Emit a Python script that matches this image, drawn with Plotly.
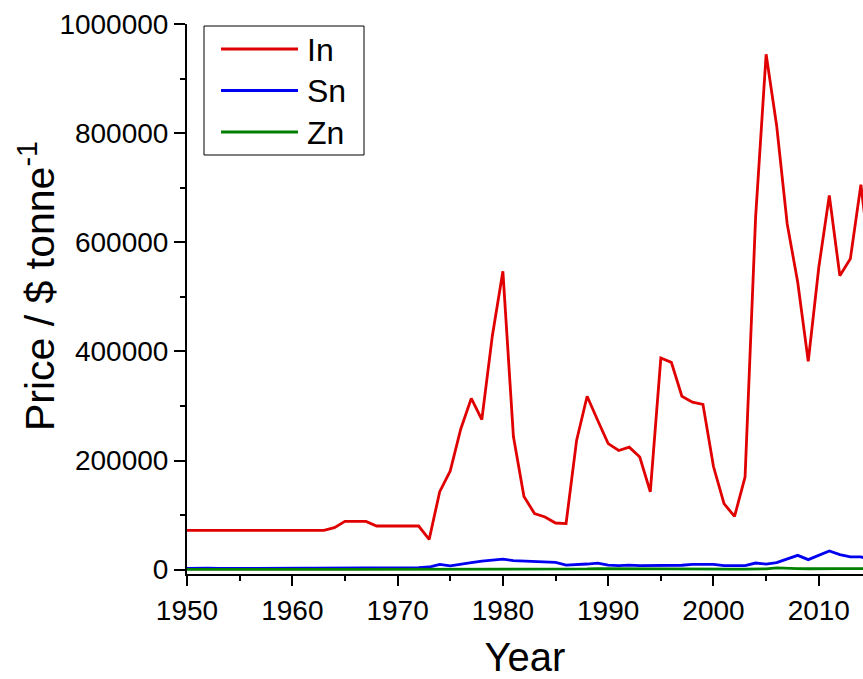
import plotly.graph_objects as go

# Annual metal prices, US$ per tonne
years = list(range(1950, 2016))

price_in = [
    72000, 72000, 72000, 72000, 72000, 72000, 72000, 72000, 72000, 72000,
    72000, 72000, 72000, 72000, 77000, 88500, 88500, 88500, 80000, 80000,
    80000, 80000, 80000, 55500, 143000, 181000, 258000, 314000, 275000, 429000,
    547000, 244000, 134000, 103000, 96500, 85500, 84500, 237000, 318000, 274000,
    231000, 218500, 224500, 206500, 142500, 388000, 380000, 318000, 307000, 303000,
    189000, 121000, 97500, 170000, 646000, 945000, 814000, 634000, 527000, 382000,
    554000, 686000, 539000, 570000, 706000, 545000,
]

price_sn = [
    2100, 2800, 2650, 2100, 2000, 2100, 2200, 2100, 2100, 2250,
    2250, 2500, 2500, 2570, 3500, 3900, 3600, 3400, 3300, 3600,
    3700, 3500, 3700, 4800, 9700, 6800, 9100, 12800, 15800, 17600,
    19400, 16500, 15500, 15200, 14700, 13400, 8400, 9100, 10300, 12100,
    8400, 7300, 8400, 7300, 7300, 8400, 8400, 8000, 9500, 9000,
    9500, 7300, 7000, 7300, 12100, 10300, 12800, 20100, 26200, 18300,
    26200, 34100, 27500, 23500, 23500, 17000,
]

price_zn = [
    300, 400, 350, 250, 230, 270, 300, 260, 220, 250,
    280, 250, 250, 270, 320, 320, 320, 300, 300, 320,
    340, 360, 400, 460, 800, 850, 800, 750, 700, 820,
    830, 960, 840, 900, 1070, 870, 830, 900, 1300, 1800,
    1650, 1100, 1250, 950, 1000, 1030, 1020, 1310, 1020, 1070,
    1130, 890, 780, 830, 1050, 1380, 3270, 3250, 1870, 1650,
    2160, 2190, 1950, 1910, 2160, 1930,
]

series = [
    ("In", price_in, "#e00000"),
    ("Sn", price_sn, "#0000f0"),
    ("Zn", price_zn, "#008000"),
]

FONT = "Liberation Sans, Arial, sans-serif"

fig = go.Figure()
for name, vals, color in series:
    fig.add_trace(go.Scatter(
        x=years, y=vals, mode="lines", name=name,
        line=dict(color=color, width=2.8),
        showlegend=False, cliponaxis=True,
    ))

W, H = 863, 679
ML, MR, MT, MB = 187, 0, 24, 105
PW, PH = W - ML - MR, H - MT - MB


def px(x):
    return (x - ML) / PW


def py(y):
    return (H - MB - y) / PH


# Boxed legend drawn in paper coordinates
shapes = [dict(type="rect", xref="paper", yref="paper",
               x0=px(204), x1=px(364), y0=py(155), y1=py(26),
               line=dict(color="black", width=1), fillcolor="white", layer="above")]
annotations = []
for i, (name, vals, color) in enumerate(series):
    yy = 49 + i * 41.5
    shapes.append(dict(type="line", xref="paper", yref="paper",
                       x0=px(221), x1=px(298), y0=py(yy), y1=py(yy),
                       line=dict(color=color, width=2.8), layer="above"))
    annotations.append(dict(xref="paper", yref="paper", x=px(305), y=py(yy + 1),
                            xanchor="left", yanchor="middle", text=name,
                            showarrow=False, font=dict(family=FONT, size=32, color="black")))

# Vertical axis title
annotations.append(dict(xref="paper", yref="paper", x=px(37), y=py(286),
                        xanchor="center", yanchor="middle", textangle=-90,
                        text="Price / $ tonne<sup>-1</sup>", showarrow=False,
                        font=dict(family=FONT, size=41, color="black")))

fig.update_layout(
    width=W, height=H,
    margin=dict(l=ML, r=MR, t=MT, b=MB, autoexpand=False),
    paper_bgcolor="white", plot_bgcolor="white",
    font=dict(family=FONT, color="black"),
    shapes=shapes, annotations=annotations,
    xaxis=dict(
        range=[1950, 2014.2], tick0=1950, dtick=10,
        showgrid=False, zeroline=False, showline=True, linecolor="black", linewidth=2,
        ticks="outside", ticklen=10, tickwidth=2, tickcolor="black",
        minor=dict(dtick=5, ticks="outside", ticklen=5, tickwidth=2, tickcolor="black", showgrid=False),
        tickfont=dict(family=FONT, size=28),
        title=dict(text="Year", font=dict(family=FONT, size=40), standoff=18),
        automargin=False,
    ),
    yaxis=dict(
        range=[-8000, 1000500], tick0=0, dtick=200000, tickformat="d",
        showgrid=False, zeroline=False, showline=True, linecolor="black", linewidth=2,
        ticks="outside", ticklen=11, tickwidth=2, tickcolor="black",
        minor=dict(dtick=100000, ticks="outside", ticklen=5, tickwidth=2, tickcolor="black", showgrid=False),
        tickfont=dict(family=FONT, size=28),
        automargin=False,
    ),
)

fig.write_html("out.html")
